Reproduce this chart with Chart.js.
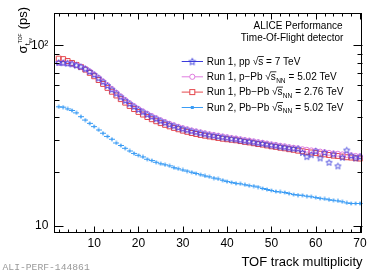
<!DOCTYPE html>
<html><head><meta charset="utf-8">
<script src="https://cdn.jsdelivr.net/npm/chart.js@4/dist/chart.umd.min.js"></script>
<style>html,body{margin:0;padding:0;background:#fff;}canvas{display:block;}</style>
</head><body>
<canvas id="c" width="375" height="273"></canvas>
<script>
// ---- data ----
const multiplicity = [2,3,4,5,6,7,8,9,10,11,12,13,14,15,16,17,18,19,20,21,22,23,24,25,26,27,28,29,30,31,32,33,34,35,36,37,38,39,40,41,42,43,44,45,46,47,48,49,50,51,52,53,54,55,56,57,58,59,60,61,62,63,64,65,66,67,68,69,70];
const ppRun1 = [80.5,80.3,79.8,79.0,77.8,76.3,74.3,71.8,69.0,66.0,63.0,60.0,57.1,54.4,51.9,49.6,47.6,45.8,44.2,42.8,41.5,40.3,39.2,38.2,37.3,36.5,35.8,35.1,34.5,34.0,33.5,33.1,32.7,32.3,31.9,31.6,31.3,31.0,30.7,30.4,30.2,29.9,29.6,29.4,29.1,28.8,28.6,28.3,28.0,27.8,27.5,27.3,27.0,26.8,26.8,25.5,24.2,24.8,26.0,23.8,25.5,22.5,25.0,21.5,24.0,26.3,24.5,23.8,24.2];
const pPbRun1 = [80.0,80.0,79.6,78.9,77.7,76.2,74.2,71.8,69.1,66.2,63.2,60.3,57.4,54.7,52.2,49.9,47.9,46.1,44.5,43.1,41.8,40.6,39.5,38.5,37.6,36.8,36.1,35.4,34.8,34.3,33.8,33.4,33.0,32.6,32.2,31.9,31.6,31.3,31.0,30.7,30.5,30.2,29.9,29.7,29.4,29.1,28.9,28.6,28.3,28.1,27.8,27.6,27.3,27.1,26.9,26.6,26.4,26.2,26.0,25.8,25.6,25.4,25.2,25.1,24.9,24.7,24.6,24.4,24.3];
const PbPbRun1 = [84.5,84.0,82.0,80.0,78.0,76.0,73.5,70.5,67.5,64.3,61.2,58.2,55.4,52.8,50.4,48.2,46.2,44.4,42.8,41.4,40.1,39.0,38.0,37.1,36.3,35.6,34.9,34.3,33.7,33.2,32.7,32.3,31.9,31.6,31.3,31.0,30.7,30.4,30.2,30.0,29.8,29.5,29.2,29.0,28.7,28.4,28.2,27.9,27.6,27.4,27.1,26.9,26.6,26.4,26.1,25.9,25.7,25.5,25.3,25.1,24.9,24.7,24.5,24.4,24.2,24.0,23.9,23.7,23.6];
const PbPbRun2 = [45.7,45.5,44.5,43.6,42.3,40.3,38.6,37.0,35.5,34.0,32.6,31.3,30.2,28.8,27.9,26.9,26.0,25.2,24.6,24.1,23.4,23.0,22.5,22.1,21.8,21.5,21.0,20.7,20.4,20.1,19.8,19.5,19.2,18.9,18.7,18.4,18.2,17.9,17.6,17.4,17.2,17.1,16.9,16.7,16.6,16.4,16.1,15.9,15.7,15.5,15.4,15.3,15.1,14.9,14.8,14.75,14.6,14.5,14.35,14.2,14.1,13.95,13.85,13.75,13.6,13.4,13.3,13.3,13.3];
const xTickValues = [10,20,30,40,50,60,70];
const xTickLabels = ['10','20','30','40','50','60','70'];
const xMinorValues = [2,4,6,8,12,14,16,18,22,24,26,28,32,34,36,38,42,44,46,48,52,54,56,58,62,64,66,68];
const yTickValues = [10,100];
const yTickLabels = ['10','10\u00B2'];
const yMinorValues = [20,30,40,50,60,70,80,90];
const seriesNames = ['Run 1, pp', 'Run 1, p\u2212Pb', 'Run 1, Pb\u2212Pb', 'Run 2, Pb\u2212Pb'];
const seriesEnergy = ['= 7 TeV', '= 5.02 TeV', '= 2.76 TeV', '= 5.02 TeV'];
const seriesNN = [false, true, true, true];
const colors = ['#3b3bdb', '#e07ce0', '#e5484d', '#3a9cf5'];

const FONT = 'Liberation Sans, Arial, sans-serif';

function starImage(color, r) {
  const s = Math.ceil(r * 2 + 2);
  const c = document.createElement('canvas'); c.width = s; c.height = s;
  const g = c.getContext('2d');
  g.strokeStyle = color; g.lineWidth = 0.9;
  g.beginPath();
  for (let i = 0; i < 10; i++) {
    const a = -Math.PI / 2 + i * Math.PI / 5;
    const rr = i % 2 ? r * 0.45 : r;
    const px = s / 2 + rr * Math.cos(a), py = s / 2 + rr * Math.sin(a) + 0.4;
    if (i) g.lineTo(px, py); else g.moveTo(px, py);
  }
  g.closePath(); g.stroke();
  return c;
}
function crossImage(color) {
  const c = document.createElement('canvas'); c.width = 6; c.height = 5;
  const g = c.getContext('2d');
  g.fillStyle = color;
  g.fillRect(0, 2, 6, 1);
  g.fillRect(2.5, 0.5, 1, 4);
  g.fillRect(2, 1.5, 2, 2);
  return c;
}
const starImg = starImage(colors[0], 3.2);
const starLegend = starImage(colors[0], 3.6);
const crossImg = crossImage(colors[3]);

function pts(arr) { return multiplicity.map((x, i) => ({ x: x, y: arr[i] })); }

const deco = {
  id: 'deco',
  beforeDraw(chart) {
    const c = chart.ctx; c.save(); c.fillStyle = '#fff'; c.fillRect(0, 0, chart.width, chart.height); c.restore();
  },
  afterDraw(chart) {
    const c = chart.ctx, a = chart.chartArea, xs = chart.scales.x, ys = chart.scales.y;
    c.save();
    c.strokeStyle = '#000'; c.lineWidth = 1;
    c.strokeRect(Math.round(a.left) + 0.5, Math.round(a.top) + 0.5, Math.round(a.right - a.left) - 1, Math.round(a.bottom - a.top) - 1);
    const L = Math.round(a.left) + 0.5, R = Math.round(a.right) - 0.5, T = Math.round(a.top) + 0.5, B = Math.round(a.bottom) - 0.5;
    c.beginPath();
    const xt = (v, len) => { const p = Math.round(xs.getPixelForValue(v)) + 0.5; c.moveTo(p, B); c.lineTo(p, B - len); c.moveTo(p, T); c.lineTo(p, T + len); };
    xTickValues.forEach(v => xt(v, 6)); xMinorValues.forEach(v => xt(v, 3));
    const yt = (v, len) => { const p = Math.round(ys.getPixelForValue(v)) + 0.5; c.moveTo(L, p); c.lineTo(L + len, p); c.moveTo(R, p); c.lineTo(R - len, p); };
    yTickValues.forEach(v => yt(v, 9)); yMinorValues.forEach(v => yt(v, 5));
    c.stroke();

    c.fillStyle = '#000';
    c.font = '10px ' + FONT; c.textAlign = 'right'; c.textBaseline = 'alphabetic';
    c.fillText('ALICE Performance', 342.5, 28.6);
    c.fillText('Time-Of-Flight detector', 343.3, 41.3);
    c.font = '13px ' + FONT;
    c.fillText('TOF track multiplicity', 362.5, 266.3);
    c.fillStyle = '#9a9a9a'; c.font = '9.7px Liberation Mono, monospace'; c.textAlign = 'left';
    c.fillText('ALI-PERF-144861', 2.5, 270);

    const ly = [61, 76.3, 91.6, 107];
    c.textAlign = 'left';
    for (let i = 0; i < 4; i++) {
      const y = ly[i];
      c.strokeStyle = colors[i]; c.lineWidth = 1;
      c.beginPath(); c.moveTo(181.7, y + 0.5); c.lineTo(203, y + 0.5); c.stroke();
      const mx = 192.3;
      if (i === 0) c.drawImage(starLegend, mx - starLegend.width / 2, y - starLegend.height / 2 + 0.5);
      else if (i === 1) { c.fillStyle = '#fff'; c.beginPath(); c.arc(mx, y + 0.5, 2.6, 0, Math.PI * 2); c.fill(); c.stroke(); }
      else if (i === 2) { c.fillStyle = '#fff'; c.fillRect(mx - 2.5, y - 2, 5, 5); c.strokeRect(mx - 2.5, y - 2, 5, 5); }
      else { c.fillStyle = colors[3]; c.fillRect(mx - 1.5, y - 1, 3, 3); }
      c.fillStyle = '#000';
      const base = y + 3.8;
      let x = 206.7;
      c.font = '10px ' + FONT;
      const t1 = seriesNames[i] + ' ';
      c.fillText(t1, x, base); x += c.measureText(t1).width;
      c.fillText('\u221A', x, base); const ws = c.measureText('\u221A').width; x += ws;
      const sw = c.measureText('s').width;
      c.fillText('s', x, base);
      c.strokeStyle = '#000'; c.lineWidth = 0.8;
      c.beginPath(); c.moveTo(x - 0.5, base - 8.3); c.lineTo(x + sw + 0.5, base - 8.3); c.stroke();
      x += sw;
      if (seriesNN[i]) {
        c.font = '6.5px ' + FONT;
        c.fillText('NN', x + 0.3, base + 2.5); x += c.measureText('NN').width + 0.6;
        c.font = '10px ' + FONT;
      }
      c.fillText(' ' + seriesEnergy[i], x, base);
    }

    c.save();
    c.translate(26.5, 53.5); c.rotate(-Math.PI / 2);
    c.fillStyle = '#000'; c.textAlign = 'left';
    let x = 0;
    c.font = '13px ' + FONT; c.fillText('\u03C3', x, 0); x += c.measureText('\u03C3').width + 0.3;
    c.font = '7px ' + FONT; c.fillText('t', x, 3.2); x += c.measureText('t').width;
    c.font = '5px ' + FONT;
    c.fillText('ev', x, 5); const wev = c.measureText('ev').width;
    c.fillText('TOF', x, -4.5); const wtof = c.measureText('TOF').width;
    x += Math.max(wev, wtof) + 0.5;
    c.font = '13px ' + FONT; c.fillText(' (ps)', x, 0);
    c.restore();
    c.restore();
  }
};

new Chart(document.getElementById('c').getContext('2d'), {
  type: 'scatter',
  data: {
    datasets: [
      { label: seriesNames[0], data: pts(ppRun1), pointStyle: starImg, pointRadius: 3.5, borderColor: colors[0], backgroundColor: colors[0], showLine: false },
      { label: seriesNames[1], data: pts(pPbRun1), pointStyle: 'circle', pointRadius: 2.5, borderWidth: 1, borderColor: colors[1], backgroundColor: 'rgba(255,255,255,0)', showLine: false },
      { label: seriesNames[2], data: pts(PbPbRun1), pointStyle: 'rect', pointRadius: 3.5, borderWidth: 1, borderColor: colors[2], backgroundColor: 'rgba(255,255,255,0)', showLine: false },
      { label: seriesNames[3], data: pts(PbPbRun2), pointStyle: crossImg, pointRadius: 3, borderColor: colors[3], backgroundColor: colors[3], showLine: false }
    ]
  },
  options: {
    responsive: false, animation: false, events: [],
    layout: { padding: { top: 10, right: 12.3, left: 0, bottom: 0 } },
    plugins: { legend: { display: false }, tooltip: { enabled: false } },
    scales: {
      x: {
        type: 'linear', min: 1, max: 70.6,
        grid: { display: false, drawTicks: false }, border: { display: false },
        ticks: { autoSkip: false, maxRotation: 0, padding: 3, color: '#000', font: { family: FONT, size: 12 },
          callback: (v) => { const i = xTickValues.indexOf(v); return i >= 0 ? xTickLabels[i] : ''; } },
        afterBuildTicks: (s) => { s.ticks = xTickValues.map(v => ({ value: v })); },
        afterFit: (s) => { s.height = 40; }
      },
      y: {
        type: 'logarithmic', min: 9.12, max: 151,
        grid: { display: false, drawTicks: false }, border: { display: false },
        ticks: { autoSkip: false, padding: 6, color: '#000', font: { family: FONT, size: 12 },
          callback: (v) => { const i = yTickValues.indexOf(v); return i >= 0 ? yTickLabels[i] : ''; } },
        afterBuildTicks: (s) => { s.ticks = yTickValues.map(v => ({ value: v })); },
        afterFit: (s) => { s.width = 54.3; }
      }
    }
  },
  plugins: [deco]
});
</script>
</body></html>
